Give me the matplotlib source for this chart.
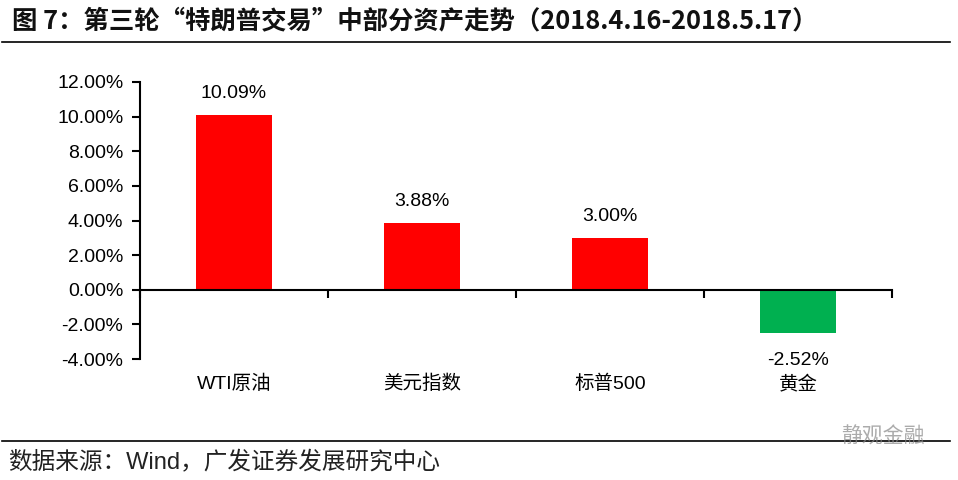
import matplotlib
matplotlib.use('Agg')
import matplotlib.pyplot as plt
from matplotlib.lines import Line2D
from matplotlib.ticker import FuncFormatter

# data
categories = ['WTI原油', '美元指数', '标普500', '黄金']
returns = [10.09, 3.88, 3.00, -2.52]   # percent
bar_colors = ['#FF0000', '#FF0000', '#FF0000', '#00B050']

title = '图 7：第三轮“特朗普交易”中部分资产走势（2018.4.16-2018.5.17）'
source = '数据来源：Wind，广发证券发展研究中心'

LATIN = ['Liberation Sans', 'Noto Sans CJK SC']
CJK = ['Noto Sans CJK SC', 'Liberation Sans']

fig = plt.figure(figsize=(9.58, 4.80), dpi=100)
ax = fig.add_axes([140 / 958, 1 - 359 / 480, 752 / 958, 277 / 480])

x = list(range(len(categories)))
ax.bar(x, returns, width=0.4, color=bar_colors, zorder=2)

ax.set_xlim(-0.5, len(categories) - 0.5)
ax.set_ylim(-4, 12)
ax.set_yticks(range(-4, 13, 2))
ax.yaxis.set_major_formatter(FuncFormatter(lambda v, p: f'{v:.2f}%'))
for lab in ax.get_yticklabels():
    lab.set_fontfamily(LATIN)
    lab.set_fontsize(14)
ax.tick_params(axis='y', direction='out', length=6, width=1.5, pad=6)

# x axis sits at zero, ticks between categories
ax.spines['bottom'].set_position(('data', 0))
ax.spines['bottom'].set_linewidth(1.5)
ax.spines['left'].set_linewidth(1.5)
ax.spines['top'].set_visible(False)
ax.spines['right'].set_visible(False)
ax.set_xticks([i - 0.5 for i in range(len(categories) + 1)])
ax.set_xticklabels([])
ax.tick_params(axis='x', direction='out', length=6, width=1.5)

for i, (cat, v) in enumerate(zip(categories, returns)):
    if v >= 0:
        ax.text(i, v + 0.75, f'{v:.2f}%', ha='center', va='bottom',
                fontsize=14, family=LATIN)
    else:
        ax.text(i, v - 1.1, f'{v:.2f}%', ha='center', va='top',
                fontsize=14, family=LATIN)
    ax.text(i, -5.45, cat, ha='center', va='center', fontsize=14,
            family=LATIN, clip_on=False)

# header and footer
fig.text(12 / 958, 1 - 21 / 480, title, ha='left', va='center', fontsize=18.3,
         fontweight='bold', family=CJK, color='#111111')
fig.add_artist(Line2D([2 / 958, 950 / 958], [1 - 42 / 480] * 2, color='black', lw=1.2))
fig.add_artist(Line2D([2 / 958, 950 / 958], [1 - 441 / 480] * 2, color='black', lw=1.2))
fig.text(8 / 958, 1 - 463 / 480, source, ha='left', va='center', fontsize=17,
         family=LATIN, color='#222222')
fig.text(925 / 958, 1 - 437 / 480, '静观金融', ha='right', va='center', fontsize=15,
         family=CJK, color='#888888', alpha=0.7)

fig.savefig('out.png', dpi=100)
